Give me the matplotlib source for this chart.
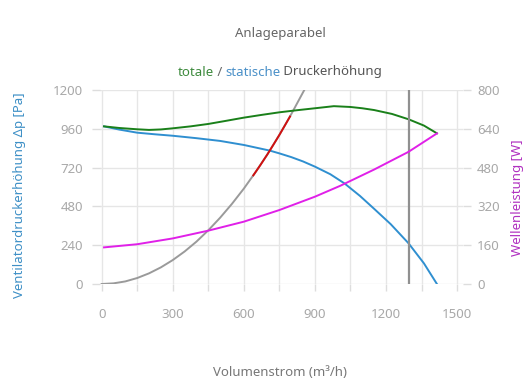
import numpy as np
import matplotlib.pyplot as plt

plt.rcParams["font.family"] = ["Noto Sans", "DejaVu Sans"]

# Anlagekennlinie (Parabel)
sys_q = [0, 50, 100, 150, 200, 250, 300, 350, 400, 450, 500, 550, 600, 650,
         700, 750, 800, 860]
sys_p = [0, 4, 16, 37, 66, 103, 148, 201, 262, 332, 410, 496, 590, 693,
         803, 922, 1050, 1213]

# markierter Abschnitt auf der Parabel
red_q = [640, 670, 700, 725, 750, 775, 795]
red_p = [672, 736, 803, 862, 922, 985, 1036]

# totale Druckerhöhung
total_q = [10, 75, 150, 200, 250, 300, 375, 450, 520, 600, 675, 750, 825, 900,
           980, 1050, 1100, 1150, 1225, 1295, 1360, 1415]
total_p = [975, 965, 957, 953, 956, 963, 975, 990, 1008, 1029, 1046, 1062, 1075,
           1087, 1100, 1095, 1087, 1076, 1052, 1019, 980, 932]

# statische Druckerhöhung
static_q = [10, 75, 150, 225, 300, 400, 500, 600, 710, 750, 800, 850, 900, 965,
            1025, 1090, 1150, 1220, 1295, 1360, 1415]
static_p = [975, 955, 936, 926, 917, 902, 885, 860, 825, 808, 785, 758, 726, 679,
            622, 545, 465, 370, 252, 128, 0]

# Wellenleistung
power_q = [10, 150, 300, 450, 600, 750, 900, 1007, 1150, 1295, 1415]
power_w = [151, 164, 188, 220, 257, 305, 360, 405, 472, 545, 621]

op_q = 1295

p_ticks = [0, 240, 480, 720, 960, 1200]
w_ticks = [0, 160, 320, 480, 640, 800]
q_ticks = [0, 300, 600, 900, 1200, 1500]

fig = plt.figure(figsize=(5.3, 3.9), dpi=100)
ax = fig.add_axes([100 / 530, 1 - 284 / 390, 363 / 530, 194 / 390])

ax.plot(sys_q, sys_p, color="#9a9a9a", lw=1.4, zorder=3)
ax.plot(red_q, red_p, color="#d01010", lw=1.4, zorder=4)
ax.plot(static_q, static_p, color="#2f8fd0", lw=1.4, zorder=3)
ax.plot(total_q, total_p, color="#1a801a", lw=1.4, zorder=3)
ax.axvline(op_q, color="#909090", lw=1.6, zorder=5)

ax.set_xlim(-7, 1525)
ax.set_ylim(0, 1200)
ax.set_xticks(q_ticks)
ax.set_xticks(np.arange(150, 1500, 300), minor=True)
ax.set_yticks(p_ticks)
ax.grid(True, which="both", color="#e6e6e6", lw=1)
ax.set_axisbelow(True)
for s in ax.spines.values():
    s.set_visible(False)
ax.tick_params(axis="y", length=6, width=1, color="#dddddd", pad=6,
               labelsize=9.5, labelcolor="#a8a8a8")
ax.tick_params(axis="x", which="both", length=5, width=1, color="#dddddd",
               pad=12, labelsize=9.5, labelcolor="#a8a8a8")

ax2 = ax.twinx()
ax2.plot(power_q, power_w, color="#e020e8", lw=1.4, zorder=3)
ax2.set_ylim(0, 800)
ax2.set_yticks(w_ticks)
for s in ax2.spines.values():
    s.set_visible(False)
ax2.tick_params(axis="y", length=6, width=1, color="#dddddd", pad=4,
                labelsize=9.5, labelcolor="#a8a8a8")

fig.text(280 / 530, 1 - 34 / 390, "Anlageparabel", ha="center", va="center",
         fontsize=9.5, color="#666666")

# farbiger Untertitel: Breiten der Präfixe messen (mit "x" als Endmarke,
# damit Leerzeichen mitzählen)
parts = [("totale", "#3d8a3d"), (" / ", "#666666"), ("statische", "#4a90c8"),
         (" Druckerhöhung", "#555555")]
fig.canvas.draw()
r = fig.canvas.get_renderer()


def text_width(s):
    t = fig.text(0, 0, s + "x", fontsize=9.5)
    w = t.get_window_extent(r).width
    t.remove()
    t = fig.text(0, 0, "x", fontsize=9.5)
    w -= t.get_window_extent(r).width
    t.remove()
    return w


full = "".join(p[0] for p in parts)
total_w = text_width(full)
x0 = 280 - total_w / 2
prefix = ""
for s, c in parts:
    off = text_width(prefix) if prefix else 0
    fig.text((x0 + off) / 530, 1 - 72 / 390, s, ha="left", va="center",
             fontsize=9.5, color=c)
    prefix += s

fig.text(20 / 530, 0.5, "Ventilatordruckerhöhung Δp [Pa]", rotation=90,
         ha="center", va="center", fontsize=9.5, color="#3d8fc6")
fig.text(518 / 530, 1 - 198 / 390, "Wellenleistung [W]", rotation=90,
         ha="center", va="center", fontsize=9.5, color="#b030c0")
fig.text(280 / 530, 1 - 372 / 390, "Volumenstrom (m³/h)", ha="center",
         va="center", fontsize=9.5, color="#777777")

fig.savefig("out.png", dpi=100)
